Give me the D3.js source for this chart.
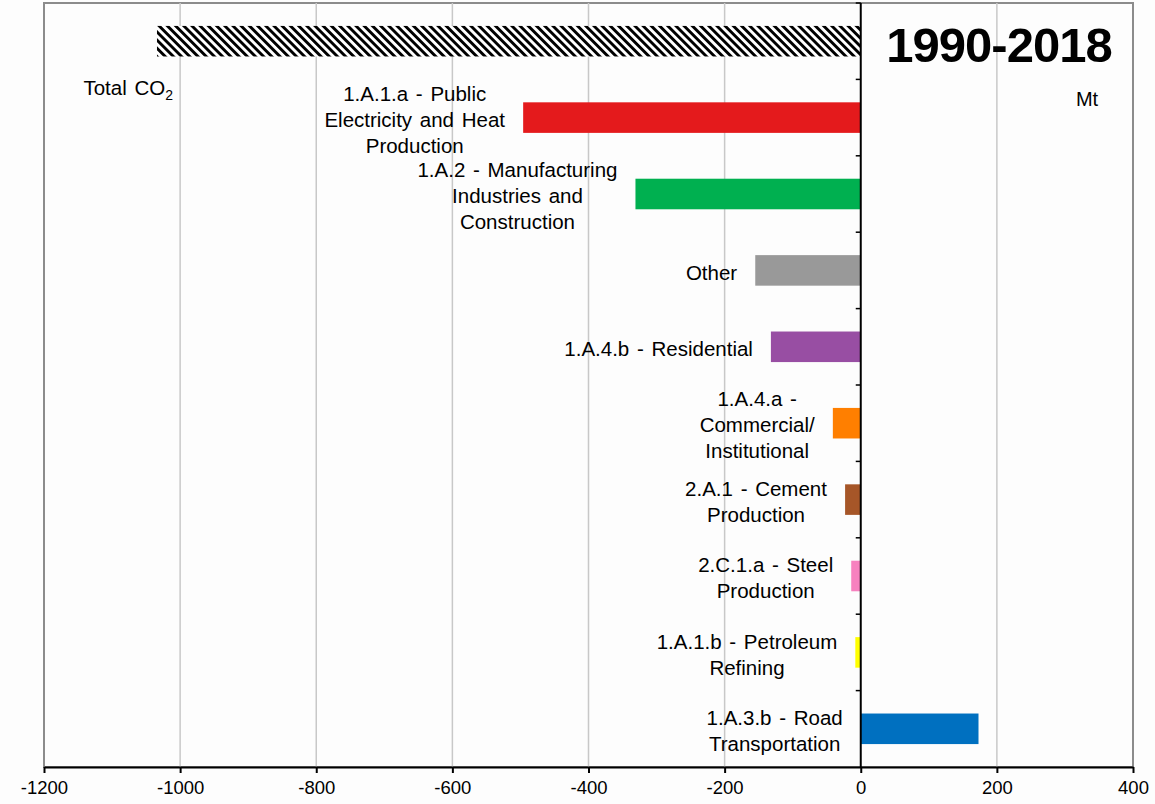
<!DOCTYPE html>
<html>
<head>
<meta charset="utf-8">
<script src="https://cdn.jsdelivr.net/npm/d3@7"></script>
<style>
  body { margin: 0; background: #fdfdfd; }
  svg { font-family: "Liberation Sans", Arial, sans-serif; }
</style>
</head>
<body>
<script>
// Categories (top to bottom), label lines and values in Mt (change 1990-2018)
const categories = ["Total", "PublicElec", "Manufacturing", "Other", "Residential",
  "Commercial", "Cement", "Steel", "Petroleum", "Road"];
const labelLines = [
  ["Total CO2"],
  ["1.A.1.a - Public", "Electricity and Heat", "Production"],
  ["1.A.2 - Manufacturing", "Industries and", "Construction"],
  ["Other"],
  ["1.A.4.b - Residential"],
  ["1.A.4.a -", "Commercial/", "Institutional"],
  ["2.A.1 - Cement", "Production"],
  ["2.C.1.a  - Steel", "Production"],
  ["1.A.1.b - Petroleum", "Refining"],
  ["1.A.3.b - Road", "Transportation"]
];
const values = [-1034, -496, -331, -155, -132, -41, -23, -14, -8, 173];
const colors = ["url(#hatch)", "#e41a1c", "#00b050", "#999999", "#984ea3",
  "#ff7f00", "#a65628", "#f781bf", "#ffff00", "#0070c0"];
const xTicks = [-1200, -1000, -800, -600, -400, -200, 0, 200, 400];

const width = 1155, height = 804;
const margin = { top: 3, right: 22, bottom: 37, left: 44 };

const svg = d3.select("body").append("svg")
  .attr("width", width)
  .attr("height", height);

// diagonal hatch for the total bar
svg.append("defs").append("pattern")
  .attr("id", "hatch")
  .attr("patternUnits", "userSpaceOnUse")
  .attr("width", 5.8)
  .attr("height", 5.8)
  .attr("patternTransform", "rotate(-45)")
  .call(p => {
    p.append("rect").attr("width", 5.8).attr("height", 5.8).attr("fill", "#fff");
    p.append("rect").attr("width", 2.9).attr("height", 5.8).attr("fill", "#000");
  });

const x = d3.scaleLinear()
  .domain([-1200, 400])
  .range([margin.left, width - margin.right]);

const y = d3.scaleBand()
  .domain(categories)
  .range([margin.top, height - margin.bottom])
  .paddingInner(0.6)
  .paddingOuter(0.3);

// plot frame
svg.append("rect")
  .attr("x", x(-1200))
  .attr("y", margin.top)
  .attr("width", x(400) - x(-1200))
  .attr("height", height - margin.bottom - margin.top)
  .attr("fill", "#fdfdfd")
  .attr("stroke", "#8c8c8c")
  .attr("stroke-width", 2);

// gridlines
svg.append("g")
  .selectAll("line")
  .data(xTicks.filter(d => d > -1200 && d < 400 && d !== 0))
  .join("line")
  .attr("x1", d => x(d)).attr("x2", d => x(d))
  .attr("y1", margin.top).attr("y2", height - margin.bottom)
  .attr("stroke", "#c8c8c8")
  .attr("stroke-width", 1.5);

// bars
svg.append("g")
  .selectAll("rect")
  .data(values)
  .join("rect")
  .attr("x", d => x(Math.min(0, d)))
  .attr("y", (d, i) => y(categories[i]))
  .attr("width", d => Math.abs(x(d) - x(0)))
  .attr("height", y.bandwidth())
  .attr("fill", (d, i) => colors[i]);

// bottom axis
const xAxis = svg.append("g")
  .attr("transform", `translate(0,${height - margin.bottom})`)
  .call(d3.axisBottom(x).tickValues(xTicks).tickSize(6).tickSizeOuter(0).tickFormat(d => String(d)));
xAxis.select(".domain").attr("stroke", "#000").attr("stroke-width", 2);
xAxis.selectAll(".tick line").attr("stroke", "#000").attr("stroke-width", 2);
xAxis.selectAll("text")
  .attr("font-size", 18.5)
  .attr("font-family", "'Liberation Sans', Arial, sans-serif")
  .attr("fill", "#000")
  .attr("dy", "0.95em");

// zero line with category separator ticks
svg.append("line")
  .attr("x1", x(0)).attr("x2", x(0))
  .attr("y1", margin.top).attr("y2", height - margin.bottom)
  .attr("stroke", "#000")
  .attr("stroke-width", 2);
svg.append("g")
  .selectAll("line")
  .data(d3.range(categories.length))
  .join("line")
  .attr("x1", x(0) - 5).attr("x2", x(0))
  .attr("y1", i => margin.top + i * y.step())
  .attr("y2", i => margin.top + i * y.step())
  .attr("stroke", "#000")
  .attr("stroke-width", 1.5);

// category labels
const lineH = 26;
const labels = svg.append("g")
  .attr("font-size", 20.5)
  .attr("fill", "#000")
  .attr("word-spacing", 2);

labelLines.forEach((lines, i) => {
  const cy = y(categories[i]) + y.bandwidth() / 2 + 2;
  const t = labels.append("text").attr("text-anchor", "middle");
  if (i === 0) {
    // total label sits below the hatched bar
    t.attr("text-anchor", "end")
      .attr("x", x(values[0]) + 16)
      .attr("y", cy + 52);
    t.append("tspan").text("Total CO");
    t.append("tspan").text("2").attr("font-size", 14).attr("dy", 5);
    return;
  }
  lines.forEach((s, j) => {
    t.append("tspan")
      .attr("x", 0)
      .attr("y", cy + (j - (lines.length - 1) / 2) * lineH)
      .attr("dy", "0.35em")
      .text(s);
  });
  const w = t.node().getBBox().width;
  const right = Math.min(x(values[i]), x(0)) - 18;
  t.attr("transform", `translate(${right - w / 2},0)`);
});

// title and unit
svg.append("text")
  .attr("x", 999)
  .attr("y", 62)
  .attr("text-anchor", "middle")
  .attr("font-size", 49)
  .attr("font-weight", "bold")
  .attr("letter-spacing", -1)
  .text("1990-2018");

svg.append("text")
  .attr("x", 1087)
  .attr("y", 106)
  .attr("text-anchor", "middle")
  .attr("font-size", 20)
  .text("Mt");
</script>
</body>
</html>
